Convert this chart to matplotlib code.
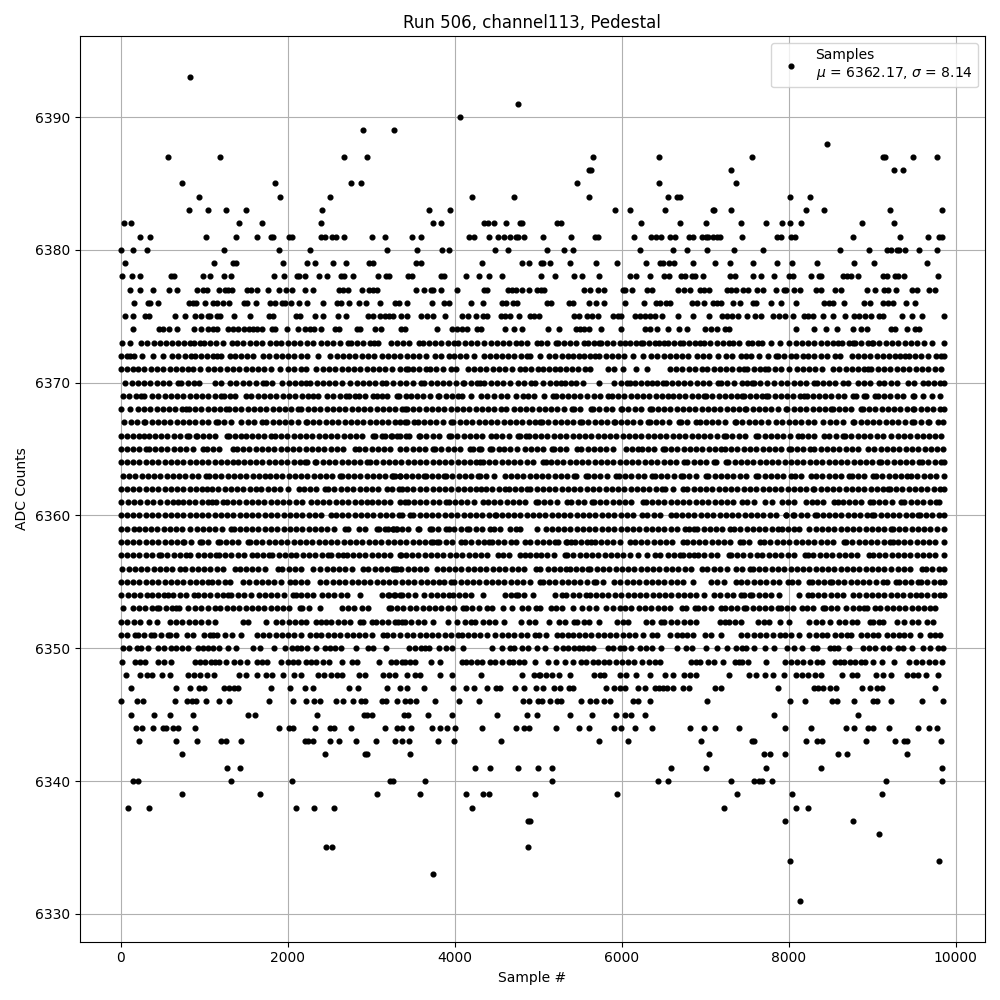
#!/usr/bin/env python3

"""Plot pedestal ADC samples for one channel."""

import matplotlib

matplotlib.use("Agg")
import matplotlib.pyplot as plt

# sample numbers, one list per ADC count
s6393 = [828]
s6391 = [4752]
s6390 = [4068]
s6389 = [2904, 3276]
s6388 = [8460]
s6387 = [564, 1188, 2676, 2952, 5652, 6444, 7560, 9132, 9148, 9492, 9780]
s6386 = [5612, 5632, 7308, 9264, 9372]
s6385 = [732, 1848, 2760, 2880, 5460, 6444, 7368]
s6384 = [936, 1908, 2508, 4212, 4704, 5604, 6552, 6660, 6700, 8016, 8256]
s6383 = [816, 1044, 1260, 1500, 2412, 3696, 3944, 5916, 6096, 6516, 7092, 7108, 7308, 8208, 8424, 9216, 9828]
s6382 = [36, 120, 1416, 1692, 2400, 3744, 3840, 4352, 4400, 4464, 4608, 4776, 4808, 5220, 5268, 6228, 6696,
         7008, 7428, 7728, 7920, 8016, 8148, 8880, 9264]
s6381 = [228, 348, 1020, 1380, 1632, 1800, 1824, 2016, 2056, 2400, 2448, 2532, 2584, 2676, 3012, 3168, 3492,
         3600, 4172, 4232, 4404, 4512, 4584, 4656, 4728, 4752, 4824, 5052, 5388, 5676, 5716, 6144, 6348, 6412,
         6468, 6576, 6636, 6804, 6852, 6960, 7008, 7032, 7092, 7140, 7176, 7440, 7860, 7908, 8028, 8076, 8772,
         9336, 9672, 9804, 9828]
s6380 = [0, 144, 312, 1236, 1896, 2268, 3192, 3552, 3852, 3936, 4476, 4632, 5100, 5304, 5412, 6216, 6612, 6780,
         7020, 7344, 7692, 8616, 8964, 9180, 9228, 9300, 9324, 9396, 9564, 9780]
s6379 = [48, 1116, 1344, 1376, 1944, 2232, 2328, 2544, 2700, 2976, 3024, 3540, 3600, 4332, 4800, 4884, 5032,
         5052, 5136, 5376, 5688, 5940, 6288, 6456, 6492, 6564, 6624, 6852, 7116, 7296, 7572, 7860, 8040, 8340,
         8784, 9024, 9660]
s6378 = [12, 132, 228, 600, 640, 984, 1068, 1236, 1320, 1836, 1956, 2112, 2136, 2208, 2376, 2472, 2640, 2676,
         2784, 3084, 3180, 3216, 3440, 3492, 3840, 3872, 4140, 4296, 4404, 4560, 5032, 5196, 5424, 5520, 5724,
         6096, 6168, 6336, 6504, 6564, 6708, 6756, 6840, 6876, 6972, 7296, 7356, 7572, 7668, 7824, 8004, 8052,
         8268, 8364, 8388, 8652, 8700, 8748, 8832, 9132, 9180, 9276, 9312, 9384, 9792]
s6377 = [108, 232, 392, 576, 672, 912, 984, 1032, 1176, 1248, 1290, 1332, 1512, 1560, 1632, 1764, 1896, 1980,
         2052, 2208, 2304, 2616, 2664, 2724, 2892, 2976, 3024, 3072, 3540, 3636, 3720, 3744, 3840, 4032, 4356,
         4384, 4632, 4680, 4728, 4804, 4884, 4984, 5032, 5072, 5544, 5616, 5716, 5784, 6012, 6036, 6124, 6300,
         6360, 6672, 6744, 6816, 6936, 6984, 7044, 7260, 7308, 7372, 7452, 7512, 7620, 7692, 7848, 7944, 7968,
         8060, 8132, 8328, 8388, 8556, 8628, 8940, 9036, 9144, 9192, 9288, 9480, 9540, 9684, 9756]
s6376 = [156, 324, 352, 444, 816, 864, 896, 1008, 1104, 1152, 1224, 1296, 1476, 1512, 1620, 1788, 1848, 1932,
         1968, 2040, 2136, 2232, 2424, 2592, 2640, 2736, 2856, 2940, 3108, 3288, 3336, 3432, 3732, 3876, 3936,
         4192, 4344, 4560, 4608, 4692, 4744, 5100, 5156, 5364, 5412, 5604, 5688, 5784, 6036, 6264, 6408, 6456,
         6528, 6576, 6840, 6900, 6984, 7092, 7140, 7188, 7332, 7416, 7572, 7608, 7788, 7908, 8088, 8424, 8484,
         8532, 8664, 8904, 8976, 9132, 9192, 9252, 9408, 9516]
s6375 = [48, 144, 288, 336, 648, 768, 884, 960, 1044, 1068, 1152, 1188, 1356, 1548, 1776, 1824, 2100, 2148,
         2328, 2424, 2604, 2700, 2964, 3024, 3108, 3168, 3216, 3264, 3360, 3432, 3600, 3672, 3744, 3888, 4092,
         4164, 4260, 4344, 4392, 4548, 4596, 4656, 4764, 4896, 4944, 5012, 5424, 5484, 5580, 5640, 5712, 5892,
         5952, 5988, 6156, 6216, 6276, 6336, 6396, 6480, 6672, 6852, 7044, 7200, 7260, 7320, 7392, 7496, 7596,
         7668, 7812, 7884, 7956, 8052, 8184, 8232, 8292, 8412, 8532, 8676, 8784, 8844, 8916, 8988, 9084, 9132,
         9360, 9480, 9600, 9852]
s6374 = [144, 464, 512, 576, 672, 876, 960, 1044, 1104, 1152, 1284, 1344, 1404, 1476, 1536, 1584, 1632, 1692,
         1812, 1848, 1992, 2124, 2208, 2268, 2316, 2400, 2568, 2616, 2832, 2868, 3048, 3120, 3360, 3408, 3792,
         3972, 4032, 4092, 4152, 4272, 4320, 4596, 4704, 4800, 5112, 5244, 5448, 5496, 5544, 5604, 5748, 5988,
         6276, 6336, 6420, 6552, 6684, 6780, 6996, 7068, 7140, 7236, 7284, 8088, 8304, 8448, 8580, 8772, 8868,
         8940, 9228, 9276, 9420, 9516, 9564]
s6373 = [16, 112, 244, 320, 395, 470, 545, 620, 684, 760, 832, 876, 944, 996, 1070, 1145, 1220, 1332, 1396, 1470,
         1545, 1620, 1696, 1792, 1864, 1924, 2000, 2075, 2150, 2225, 2300, 2404, 2472, 2545, 2620, 2716, 2752,
         2825, 2900, 2984, 3032, 3084, 3232, 3305, 3380, 3455, 3576, 3616, 3690, 3765, 3840, 3915, 3990, 4044,
         4120, 4195, 4270, 4345, 4432, 4504, 4580, 4655, 4730, 4792, 4864, 4984, 5032, 5105, 5212, 5232, 5305,
         5380, 5455, 5552, 5592, 5665, 5724, 5752, 5825, 5900, 5975, 6044, 6100, 6170, 6232, 6252, 6325, 6400,
         6444, 6504, 6552, 6625, 6692, 6732, 6805, 6880, 6940, 6984, 7060, 7135, 7210, 7284, 7332, 7405, 7512,
         7560, 7630, 7684, 7788, 7900, 8004, 8080, 8155, 8230, 8305, 8380, 8455, 8530, 8592, 8640, 8715, 8772,
         8796, 8870, 8945, 8992, 9012, 9085, 9160, 9235, 9310, 9385, 9460, 9540, 9624, 9720, 9852]
s6372 = [0, 70, 112, 164, 256, 392, 504, 616, 690, 765, 844, 884, 960, 1035, 1110, 1152, 1204, 1312, 1364, 1440,
         1515, 1590, 1704, 1776, 1856, 1936, 2004, 2080, 2155, 2230, 2364, 2512, 2585, 2660, 2735, 2810, 2885,
         2964, 3032, 3124, 3200, 3275, 3350, 3425, 3500, 3575, 3656, 3764, 3840, 3936, 3992, 4065, 4136, 4232,
         4352, 4416, 4490, 4565, 4640, 4715, 4790, 4864, 4904, 5024, 5132, 5205, 5280, 5355, 5412, 5484, 5552,
         5625, 5684, 5732, 5805, 5880, 5955, 6030, 6132, 6252, 6352, 6425, 6500, 6575, 6650, 6724, 6792, 6900,
         6972, 7045, 7152, 7244, 7320, 7432, 7492, 7552, 7644, 7752, 7844, 7872, 7945, 8020, 8084, 8172, 8232,
         8305, 8380, 8455, 8552, 8612, 8752, 8825, 8900, 8975, 9050, 9125, 9200, 9275, 9332, 9392, 9444, 9512,
         9585, 9672, 9760, 9825, 9856]
s6371 = [0, 70, 145, 204, 284, 360, 435, 510, 585, 660, 735, 810, 864, 952, 1044, 1120, 1195, 1270, 1345, 1420,
         1495, 1570, 1645, 1720, 1795, 1904, 2004, 2080, 2155, 2224, 2344, 2420, 2495, 2570, 2645, 2720, 2795,
         2870, 2945, 3020, 3095, 3170, 3245, 3344, 3420, 3444, 3496, 3570, 3656, 3704, 3780, 3855, 3956, 4016,
         4156, 4230, 4305, 4380, 4455, 4530, 4605, 4680, 4776, 4836, 4910, 4996, 5056, 5130, 5196, 5256, 5330,
         5405, 5480, 5555, 5616, 5836, 5910, 6016, 6176, 6296, 6576, 6650, 6725, 6800, 6880, 6956, 7024, 7100,
         7175, 7250, 7325, 7400, 7464, 7504, 7580, 7655, 7716, 7756, 7830, 7905, 8004, 8092, 8165, 8240, 8315,
         8396, 8532, 8605, 8680, 8755, 8830, 8904, 8944, 8984, 9064, 9140, 9215, 9290, 9364, 9444, 9520, 9595,
         9670, 9745, 9824]
s6370 = [56, 130, 205, 280, 355, 430, 505, 580, 688, 724, 800, 875, 936, 1124, 1200, 1304, 1384, 1464, 1540, 1615,
         1704, 1744, 1816, 1936, 2010, 2085, 2160, 2216, 2272, 2345, 2420, 2495, 2570, 2645, 2744, 2824, 2900,
         2975, 3050, 3125, 3176, 3264, 3344, 3420, 3496, 3596, 3636, 3710, 3785, 3860, 3935, 4010, 4096, 4116,
         4190, 4265, 4304, 4356, 4436, 4504, 4580, 4664, 4756, 4830, 4916, 4960, 5056, 5136, 5210, 5276, 5316,
         5390, 5448, 5536, 5724, 5904, 5996, 6060, 6104, 6156, 6230, 6300, 6356, 6416, 6490, 6528, 6596, 6670,
         6745, 6820, 6895, 6970, 7045, 7156, 7184, 7260, 7344, 7436, 7500, 7556, 7588, 7660, 7735, 7824, 7912,
         7984, 8060, 8135, 8210, 8304, 8332, 8405, 8480, 8555, 8644, 8712, 8824, 8900, 8975, 9084, 9144, 9220,
         9295, 9424, 9504, 9604, 9664, 9740, 9815, 9856]
s6369 = [32, 105, 180, 244, 284, 376, 450, 525, 600, 675, 750, 825, 900, 975, 1050, 1125, 1204, 1232, 1305, 1364,
         1496, 1564, 1640, 1715, 1790, 1865, 1940, 2015, 2090, 2165, 2240, 2304, 2364, 2472, 2544, 2620, 2696,
         2736, 2800, 2856, 2924, 3016, 3064, 3125, 3184, 3304, 3328, 3416, 3476, 3550, 3625, 3700, 3796, 3816,
         3890, 3965, 4036, 4088, 4196, 4316, 4390, 4465, 4556, 4624, 4736, 4816, 4880, 4944, 5064, 5176, 5208,
         5280, 5355, 5430, 5505, 5580, 5664, 5736, 5836, 5888, 5956, 6030, 6105, 6180, 6255, 6330, 6405, 6480,
         6555, 6608, 6684, 6760, 6835, 6910, 6984, 7012, 7085, 7160, 7235, 7310, 7385, 7444, 7464, 7532, 7612,
         7680, 7732, 7756, 7830, 7905, 7980, 8055, 8130, 8184, 8212, 8285, 8360, 8435, 8510, 8585, 8660, 8764,
         8804, 8904, 8924, 9036, 9064, 9140, 9215, 9290, 9365, 9484, 9504, 9612, 9716, 9812]
s6368 = [0, 112, 204, 280, 355, 430, 505, 580, 655, 730, 784, 816, 890, 965, 1040, 1115, 1190, 1264, 1296, 1370,
         1445, 1520, 1595, 1670, 1745, 1820, 1895, 1970, 2045, 2124, 2164, 2240, 2315, 2390, 2465, 2540, 2615,
         2690, 2765, 2840, 2915, 2990, 3065, 3140, 3215, 3290, 3365, 3408, 3424, 3500, 3575, 3650, 3725, 3800,
         3875, 3950, 4025, 4100, 4175, 4250, 4325, 4400, 4475, 4550, 4616, 4704, 4780, 4855, 4930, 5005, 5080,
         5155, 5230, 5305, 5408, 5424, 5500, 5636, 5656, 5730, 5805, 5880, 5996, 6008, 6080, 6155, 6230, 6336,
         6356, 6430, 6505, 6580, 6655, 6730, 6805, 6880, 6955, 7030, 7105, 7180, 7255, 7330, 7405, 7476, 7492,
         7565, 7640, 7715, 7790, 7865, 7972, 7984, 8060, 8135, 8210, 8285, 8360, 8435, 8504, 8524, 8600, 8675,
         8750, 8864, 8884, 8960, 9035, 9110, 9185, 9260, 9335, 9410, 9492, 9504, 9580, 9655, 9730, 9805, 9852]
s6367 = [44, 120, 195, 284, 296, 370, 445, 520, 595, 670, 745, 820, 895, 970, 1045, 1144, 1164, 1240, 1315, 1444,
         1524, 1600, 1696, 1744, 1820, 1895, 1970, 2045, 2120, 2224, 2232, 2305, 2380, 2455, 2530, 2605, 2680,
         2755, 2830, 2905, 2980, 3055, 3130, 3205, 3280, 3344, 3408, 3424, 3516, 3556, 3630, 3705, 3780, 3855,
         3956, 3984, 4060, 4135, 4210, 4285, 4360, 4435, 4510, 4585, 4660, 4735, 4810, 4885, 4960, 5016, 5048,
         5120, 5195, 5270, 5345, 5420, 5504, 5528, 5600, 5675, 5750, 5825, 5904, 5916, 5990, 6065, 6140, 6215,
         6316, 6336, 6410, 6485, 6560, 6688, 6704, 6780, 6892, 6932, 7005, 7080, 7155, 7230, 7356, 7372, 7445,
         7520, 7595, 7670, 7745, 7844, 7924, 8000, 8075, 8150, 8225, 8300, 8412, 8492, 8570, 8645, 8772, 8784,
         8860, 8935, 9010, 9085, 9160, 9235, 9310, 9385, 9476, 9504, 9580, 9664, 9676, 9784, 9844]
s6366 = [0, 75, 150, 225, 284, 336, 410, 485, 560, 635, 710, 792, 816, 896, 912, 985, 1060, 1135, 1272, 1296, 1370,
         1444, 1496, 1570, 1645, 1720, 1804, 1844, 1920, 1995, 2070, 2145, 2220, 2295, 2370, 2445, 2520, 2595,
         2670, 2745, 2820, 2895, 3024, 3044, 3124, 3164, 3244, 3344, 3236, 3310, 3416, 3448, 3568, 3584, 3660,
         3735, 3810, 3928, 3956, 4030, 4105, 4180, 4255, 4328, 4436, 4496, 4570, 4645, 4756, 4784, 4856, 4888,
         4960, 5035, 5110, 5185, 5260, 5335, 5410, 5485, 5560, 5635, 5710, 5785, 5860, 5935, 6010, 6085, 6160,
         6235, 6310, 6385, 6460, 6535, 6610, 6684, 6760, 6835, 6910, 6985, 7060, 7135, 7224, 7252, 7325, 7400,
         7475, 7604, 7636, 7710, 7785, 7860, 7935, 8010, 8104, 8156, 8230, 8305, 8424, 8484, 8560, 8644, 8676,
         8750, 8825, 8900, 8975, 9050, 9125, 9224, 9304, 9380, 9455, 9530, 9605, 9680, 9755, 9824]
s6365 = [0, 75, 150, 225, 304, 336, 410, 485, 560, 635, 710, 785, 860, 984, 1032, 1105, 1180, 1344, 1392, 1465,
         1540, 1615, 1690, 1765, 1840, 1915, 1990, 2065, 2140, 2215, 2290, 2365, 2440, 2524, 2592, 2665, 2804,
         2856, 2930, 3005, 3080, 3155, 3230, 3344, 3420, 3495, 3570, 3645, 3744, 3768, 3840, 3915, 3990, 4065,
         4184, 4216, 4288, 4316, 4416, 4448, 4528, 4584, 4660, 4744, 4836, 4910, 4985, 5060, 5168, 5184, 5260,
         5335, 5464, 5516, 5590, 5665, 5740, 5815, 5896, 6048, 6120, 6196, 6236, 6310, 6385, 6496, 6516, 6590,
         6665, 6740, 6815, 6890, 6965, 7040, 7115, 7184, 7236, 7310, 7385, 7460, 7535, 7610, 7685, 7760, 7835,
         7910, 8004, 8024, 8100, 8175, 8252, 8304, 8380, 8455, 8530, 8605, 8680, 8755, 8830, 8944, 9024, 9100,
         9175, 9250, 9325, 9400, 9475, 9550, 9625, 9700, 9775, 9850]
s6364 = [0, 75, 150, 225, 300, 375, 450, 525, 600, 675, 750, 825, 900, 975, 1050, 1125, 1200, 1275, 1350, 1404,
         1472, 1545, 1620, 1695, 1770, 1845, 1920, 1995, 2070, 2145, 2204, 2232, 2324, 2344, 2420, 2495, 2570,
         2645, 2720, 2795, 2870, 2944, 2984, 3060, 3135, 3210, 3285, 3360, 3435, 3510, 3585, 3660, 3735, 3810,
         3885, 3960, 4035, 4110, 4185, 4260, 4304, 4336, 4410, 4485, 4560, 4635, 4710, 4785, 4860, 4935, 5056,
         5096, 5156, 5224, 5300, 5375, 5450, 5525, 5600, 5675, 5750, 5825, 5900, 5975, 6050, 6125, 6200, 6275,
         6350, 6425, 6500, 6575, 6650, 6744, 6784, 6860, 6935, 7010, 7104, 7124, 7244, 7276, 7350, 7425, 7500,
         7575, 7650, 7725, 7800, 7875, 7950, 8025, 8100, 8175, 8250, 8325, 8400, 8475, 8550, 8625, 8700, 8775,
         8850, 8925, 9000, 9084, 9104, 9180, 9255, 9330, 9405, 9480, 9564, 9596, 9670, 9745, 9820, 9856]
s6363 = [24, 100, 175, 250, 325, 400, 475, 550, 625, 700, 775, 850, 925, 1024, 1056, 1130, 1205, 1280, 1355, 1430,
         1505, 1580, 1655, 1724, 1784, 1860, 1935, 2010, 2085, 2160, 2235, 2310, 2385, 2460, 2535, 2624, 2644,
         2720, 2795, 2870, 2945, 3020, 3095, 3170, 3244, 3284, 3344, 3264, 3340, 3415, 3490, 3565, 3636, 3656,
         3730, 3805, 3876, 3896, 3970, 4045, 4120, 4195, 4276, 4304, 4380, 4464, 4596, 4670, 4745, 4820, 4895,
         4970, 5045, 5120, 5195, 5270, 5345, 5424, 5456, 5576, 5596, 5670, 5745, 5820, 5936, 5968, 6040, 6115,
         6190, 6265, 6356, 6396, 6470, 6545, 6620, 6704, 6736, 6810, 6885, 7004, 7036, 7110, 7185, 7260, 7335,
         7410, 7485, 7604, 7636, 7710, 7785, 7860, 7935, 8024, 8076, 8150, 8264, 8324, 8400, 8475, 8550, 8625,
         8724, 8756, 8830, 8905, 9012, 9044, 9120, 9195, 9270, 9345, 9412, 9464, 9540, 9615, 9690, 9765, 9852]
s6362 = [0, 75, 150, 225, 300, 375, 450, 525, 600, 675, 750, 825, 900, 975, 1032, 1096, 1170, 1245, 1320, 1395,
         1470, 1545, 1624, 1684, 1760, 1835, 1910, 2004, 2136, 2192, 2265, 2340, 2444, 2484, 2560, 2635, 2710,
         2785, 2860, 2935, 3010, 3085, 3184, 3244, 3336, 3368, 3430, 3496, 3584, 3660, 3735, 3810, 3885, 3960,
         4035, 4110, 4185, 4260, 4316, 4376, 4450, 4525, 4596, 4648, 4720, 4795, 4864, 4904, 4980, 5055, 5130,
         5205, 5280, 5355, 5430, 5505, 5580, 5655, 5730, 5805, 5880, 5955, 6030, 6105, 6180, 6255, 6330, 6405,
         6476, 6516, 6616, 6736, 6784, 6860, 6935, 7010, 7085, 7160, 7235, 7310, 7385, 7460, 7535, 7610, 7685,
         7760, 7835, 7910, 7985, 8060, 8135, 8210, 8284, 8304, 8380, 8455, 8530, 8605, 8680, 8755, 8830, 8905,
         8980, 9055, 9130, 9184, 9212, 9280, 9356, 9436, 9510, 9585, 9660, 9735, 9810, 9856]
s6361 = [8, 85, 160, 235, 310, 385, 472, 552, 625, 684, 744, 820, 895, 970, 1045, 1096, 1136, 1224, 1272, 1345,
         1420, 1495, 1570, 1645, 1720, 1795, 1870, 1945, 2020, 2095, 2170, 2284, 2352, 2425, 2500, 2575, 2650,
         2725, 2800, 2875, 2944, 3004, 3080, 3155, 3230, 3344, 3408, 3436, 3510, 3585, 3660, 3735, 3810, 3896,
         3928, 4000, 4075, 4150, 4225, 4344, 4396, 4470, 4545, 4620, 4695, 4770, 4845, 4976, 4996, 5070, 5145,
         5220, 5348, 5396, 5470, 5545, 5648, 5664, 5740, 5815, 5890, 5965, 6040, 6115, 6256, 6288, 6360, 6435,
         6510, 6585, 6660, 6735, 6810, 6885, 6960, 7035, 7110, 7185, 7260, 7335, 7444, 7504, 7580, 7716, 7796,
         7916, 7990, 8065, 8204, 8276, 8332, 8405, 8544, 8584, 8644, 8720, 8795, 8870, 8972, 9004, 9080, 9155,
         9230, 9344, 9384, 9460, 9535, 9610, 9685, 9764, 9804]
s6360 = [0, 75, 150, 225, 300, 375, 450, 525, 600, 675, 750, 825, 900, 975, 1050, 1125, 1200, 1275, 1350, 1425,
         1500, 1575, 1650, 1725, 1800, 1875, 1950, 2025, 2100, 2175, 2250, 2325, 2400, 2524, 2576, 2650, 2725,
         2800, 2875, 2950, 3025, 3100, 3175, 3250, 3336, 3368, 3464, 3504, 3580, 3655, 3730, 3805, 3880, 3955,
         4030, 4105, 4180, 4255, 4330, 4405, 4476, 4488, 4560, 4635, 4710, 4785, 4860, 4935, 5010, 5085, 5160,
         5235, 5310, 5385, 5460, 5535, 5610, 5685, 5760, 5835, 5910, 5985, 6060, 6135, 6236, 6304, 6380, 6455,
         6584, 6648, 6720, 6795, 6870, 6945, 7020, 7095, 7170, 7245, 7320, 7395, 7470, 7545, 7620, 7695, 7770,
         7845, 7964, 7972, 8044, 8064, 8140, 8215, 8316, 8332, 8405, 8480, 8555, 8630, 8705, 8780, 8855, 8930,
         8996, 9024, 9100, 9175, 9250, 9325, 9400, 9475, 9544, 9572, 9645, 9720, 9795, 9856]
s6359 = [0, 75, 164, 216, 290, 365, 440, 515, 590, 665, 740, 832, 912, 985, 1060, 1135, 1210, 1324, 1352, 1425,
         1500, 1575, 1650, 1725, 1800, 1875, 1950, 2025, 2100, 2175, 2250, 2325, 2400, 2475, 2550, 2684, 2724,
         2856, 2930, 3064, 3096, 3164, 3204, 3264, 3312, 3256, 3296, 3370, 3445, 3556, 3576, 3704, 3728, 3800,
         3896, 3936, 3996, 4076, 4144, 4176, 4250, 4325, 4416, 4464, 4540, 4664, 4728, 4776, 4984, 5088, 5160,
         5235, 5310, 5385, 5460, 5535, 5610, 5685, 5760, 5835, 5910, 5985, 6060, 6135, 6210, 6285, 6360, 6435,
         6510, 6585, 6660, 6756, 6804, 6864, 6904, 6980, 7055, 7132, 7204, 7292, 7344, 7420, 7495, 7570, 7645,
         7720, 7795, 7876, 7916, 7990, 8065, 8116, 8244, 8320, 8395, 8470, 8545, 8620, 8695, 8770, 8845, 8920,
         8995, 9070, 9145, 9224, 9244, 9320, 9395, 9470, 9545, 9620, 9695, 9770, 9856]
s6358 = [0, 75, 150, 225, 300, 375, 450, 525, 600, 675, 752, 764, 840, 944, 976, 1050, 1164, 1184, 1260, 1335,
         1410, 1524, 1544, 1620, 1695, 1770, 1845, 1920, 1995, 2070, 2145, 2220, 2295, 2370, 2445, 2520, 2595,
         2670, 2745, 2820, 2895, 2970, 3045, 3120, 3195, 3270, 3344, 3420, 3495, 3570, 3645, 3716, 3736, 3784,
         3816, 3890, 3965, 4076, 4128, 4200, 4275, 4350, 4408, 4448, 4520, 4595, 4676, 4736, 4836, 4904, 4980,
         5055, 5130, 5204, 5236, 5328, 5344, 5396, 5436, 5510, 5585, 5636, 5676, 5750, 5825, 5900, 5975, 6096,
         6156, 6230, 6305, 6380, 6455, 6530, 6605, 6736, 6776, 6850, 6925, 7000, 7075, 7150, 7225, 7300, 7412,
         7452, 7525, 7652, 7704, 7780, 7855, 7930, 8005, 8080, 8155, 8230, 8305, 8380, 8455, 8530, 8664, 8684,
         8760, 8835, 8910, 8985, 9060, 9135, 9212, 9244, 9304, 9380, 9455, 9530, 9605, 9680, 9755, 9856]
s6357 = [0, 75, 150, 225, 300, 375, 456, 484, 560, 635, 710, 785, 832, 924, 992, 1065, 1136, 1176, 1250, 1325,
         1400, 1475, 1576, 1632, 1705, 1776, 1816, 1890, 1965, 2040, 2104, 2180, 2255, 2330, 2405, 2484, 2524,
         2600, 2664, 2704, 2780, 2855, 2930, 3005, 3080, 3155, 3230, 3344, 3356, 3416, 3490, 3565, 3640, 3715,
         3790, 3865, 3940, 4015, 4090, 4165, 4240, 4315, 4390, 4516, 4576, 4650, 4776, 4836, 4905, 4976, 5036,
         5110, 5185, 5316, 5344, 5420, 5495, 5570, 5645, 5720, 5795, 5870, 5945, 6020, 6095, 6196, 6296, 6396,
         6456, 6556, 6630, 6696, 6736, 6810, 6864, 6916, 6990, 7065, 7140, 7284, 7308, 7380, 7455, 7530, 7624,
         7684, 7760, 7835, 7910, 7985, 8060, 8196, 8224, 8292, 8372, 8445, 8520, 8595, 8670, 8745, 8820, 8956,
         9004, 9080, 9155, 9230, 9305, 9380, 9455, 9530, 9605, 9680, 9755, 9856]
s6356 = [12, 96, 170, 245, 320, 395, 470, 545, 620, 712, 776, 850, 925, 1000, 1075, 1150, 1225, 1364, 1424, 1500,
         1575, 1650, 1725, 1884, 1936, 2010, 2085, 2160, 2304, 2392, 2465, 2540, 2615, 2690, 2765, 2904, 2964,
         3040, 3115, 3190, 3304, 3256, 3288, 3360, 3435, 3510, 3585, 3660, 3784, 3856, 3930, 4005, 4080, 4155,
         4230, 4305, 4380, 4455, 4530, 4605, 4680, 4755, 4830, 4968, 5016, 5116, 5190, 5265, 5336, 5376, 5450,
         5525, 5596, 5624, 5700, 5775, 5850, 5925, 6000, 6075, 6150, 6225, 6300, 6375, 6450, 6525, 6600, 6675,
         6756, 6830, 6964, 7024, 7100, 7175, 7264, 7372, 7445, 7532, 7572, 7645, 7720, 7795, 7870, 7945, 8020,
         8095, 8170, 8245, 8320, 8395, 8470, 8545, 8620, 8695, 8770, 8845, 8920, 8995, 9070, 9145, 9224, 9304,
         9380, 9455, 9596, 9644, 9720, 9795, 9856]
s6355 = [0, 75, 150, 225, 300, 375, 450, 525, 600, 675, 750, 825, 900, 975, 1050, 1096, 1170, 1245, 1312, 1464,
         1540, 1615, 1690, 1765, 1840, 1915, 2032, 2084, 2160, 2235, 2384, 2464, 2540, 2615, 2690, 2765, 2840,
         2915, 2990, 3065, 3140, 3215, 3290, 3365, 3440, 3515, 3590, 3665, 3740, 3808, 3876, 3956, 3996, 4070,
         4145, 4220, 4295, 4370, 4445, 4520, 4595, 4670, 4745, 4820, 4895, 5024, 5056, 5130, 5205, 5280, 5355,
         5430, 5505, 5580, 5664, 5696, 5770, 5904, 5984, 6060, 6135, 6210, 6285, 6360, 6435, 6510, 6585, 6660,
         6735, 6852, 7072, 7145, 7220, 7364, 7432, 7505, 7580, 7655, 7730, 7805, 7880, 7996, 8032, 8105, 8244,
         8272, 8345, 8420, 8492, 8516, 8590, 8665, 8740, 8815, 8890, 8965, 9040, 9132, 9172, 9284, 9316, 9390,
         9465, 9544, 9584, 9660, 9735, 9810, 9856]
s6354 = [8, 85, 160, 235, 310, 376, 444, 520, 564, 632, 705, 780, 872, 924, 1000, 1075, 1150, 1224, 1284, 1324,
         1404, 1480, 1555, 1656, 1724, 1800, 1875, 1950, 2064, 2104, 2156, 2230, 2305, 2416, 2484, 2560, 2635,
         2710, 2864, 3124, 3200, 3275, 3344, 3216, 3290, 3365, 3440, 3528, 3636, 3710, 3785, 3860, 3936, 3976,
         4050, 4125, 4200, 4336, 4596, 4670, 4728, 4756, 4830, 4936, 5196, 5288, 5336, 5416, 5490, 5568, 5616,
         5690, 5765, 5840, 5916, 5996, 6070, 6145, 6220, 6295, 6370, 6445, 6520, 6595, 6670, 6745, 6820, 6884,
         6988, 7104, 7180, 7255, 7330, 7424, 7464, 7532, 7564, 7640, 7715, 7790, 7884, 8124, 8224, 8276, 8350,
         8425, 8500, 8575, 8650, 8764, 8844, 8920, 8995, 9070, 9145, 9220, 9295, 9370, 9445, 9524, 9584, 9660,
         9735, 9810, 9856]
s6353 = [24, 144, 220, 295, 370, 432, 464, 540, 615, 664, 696, 804, 884, 960, 1044, 1124, 1192, 1272, 1345, 1420,
         1495, 1570, 1645, 1720, 1795, 1870, 1945, 2020, 2144, 2176, 2250, 2384, 2644, 2720, 2795, 2884, 2964,
         3216, 3304, 3236, 3384, 3464, 3540, 3615, 3690, 3765, 3840, 3915, 3990, 4096, 4136, 4210, 4285, 4384,
         4448, 4576, 4688, 4808, 4880, 4976, 5024, 5156, 5216, 5290, 5416, 5528, 5608, 5696, 5816, 5890, 5976,
         6036, 6116, 6208, 6280, 6355, 6430, 6505, 6580, 6716, 6768, 6876, 6916, 6990, 7065, 7184, 7236, 7310,
         7385, 7464, 7492, 7565, 7640, 7715, 7790, 7876, 7904, 7980, 8055, 8156, 8212, 8285, 8404, 8432, 8505,
         8580, 8684, 8764, 8840, 8904, 8932, 9032, 9096, 9170, 9245, 9320, 9395, 9470, 9545, 9620, 9695, 9756]
s6352 = [4, 80, 160, 232, 344, 432, 592, 665, 740, 815, 890, 965, 1040, 1124, 1464, 1524, 1736, 1864, 1936, 2010,
         2085, 2164, 2224, 2344, 2400, 2464, 2524, 2600, 2675, 2750, 2864, 2904, 3004, 3056, 3130, 3205, 3284,
         3324, 3364, 3404, 3480, 3555, 3630, 3744, 3924, 4032, 4124, 4190, 4244, 4336, 4404, 4480, 4584, 4792,
         4884, 4964, 5124, 5244, 5320, 5432, 5460, 5552, 5612, 5724, 5940, 6010, 6072, 6292, 6365, 6472, 6504,
         6592, 6665, 6740, 6815, 6892, 7172, 7240, 7284, 7352, 7432, 7632, 7700, 7764, 7892, 8004, 8244, 8320,
         8395, 8492, 8604, 8672, 8752, 8820, 8972, 9012, 9084, 9132, 9300, 9375, 9472, 9552, 9652, 9732]
s6351 = [4, 80, 176, 204, 280, 364, 404, 480, 564, 592, 665, 792, 864, 992, 1064, 1104, 1152, 1248, 1336, 1444,
         1632, 1705, 1780, 1855, 1930, 2005, 2080, 2164, 2272, 2344, 2404, 2480, 2555, 2630, 2705, 2780, 2855,
         2930, 3005, 3136, 3192, 3265, 3340, 3432, 3504, 3580, 3655, 3730, 3805, 3880, 3955, 4044, 4084, 4160,
         4232, 4304, 4384, 4480, 4564, 4640, 4715, 4790, 4865, 4964, 5012, 5092, 5220, 5290, 5352, 5412, 5485,
         5560, 5635, 5710, 5785, 5860, 5935, 6010, 6085, 6160, 6252, 6364, 6420, 6572, 6660, 6720, 6780, 6852,
         6992, 7065, 7192, 7432, 7505, 7580, 7652, 7732, 7805, 7900, 7952, 8025, 8124, 8244, 8320, 8395, 8452,
         8552, 8625, 8692, 8748, 8864, 8940, 9012, 9072, 9172, 9245, 9324, 9380, 9455, 9572, 9692, 9755, 9812]
s6350 = [24, 100, 192, 244, 324, 444, 520, 604, 664, 735, 804, 924, 984, 1050, 1104, 1176, 1284, 1376, 1584, 1672,
         1836, 1964, 2056, 2110, 2164, 2232, 2344, 2444, 2504, 2564, 2640, 2820, 2956, 3024, 3180, 3448, 3524,
         3590, 3644, 3696, 3816, 3890, 3964, 4104, 4444, 4568, 4656, 4704, 4804, 4880, 4984, 5084, 5212, 5300,
         5352, 5432, 5492, 5532, 5600, 5652, 5832, 5900, 5975, 6032, 6112, 6212, 6285, 6360, 6472, 6660, 6764,
         6840, 7012, 7140, 7260, 7372, 7440, 7492, 7580, 7716, 7820, 7980, 8064, 8160, 8284, 8340, 8492, 8545,
         8592, 8724, 8884, 8960, 9032, 9132, 9205, 9312, 9372, 9476, 9612, 9685, 9792, 9844]
s6349 = [12, 168, 230, 288, 444, 524, 604, 884, 950, 1004, 1076, 1130, 1176, 1264, 1356, 1430, 1512, 1632, 1690,
         1752, 1924, 2000, 2065, 2124, 2216, 2284, 2344, 2420, 2496, 2652, 2772, 2832, 3096, 3232, 3300, 3364,
         3404, 3465, 3524, 3720, 3824, 4084, 4140, 4192, 4264, 4332, 4424, 4484, 4565, 4644, 4696, 4764, 4832,
         4964, 5116, 5212, 5316, 5412, 5512, 5572, 5652, 5712, 5792, 5852, 5925, 6000, 6072, 6152, 6244, 6320,
         6392, 6460, 6832, 6890, 6940, 7032, 7100, 7212, 7352, 7400, 7444, 7512, 7732, 7952, 8025, 8100, 8175,
         8250, 8332, 8392, 8552, 8610, 8660, 8732, 8792, 8860, 8912, 9012, 9120, 9260, 9444, 9520, 9592, 9684,
         9752, 9832]
s6348 = [64, 232, 312, 376, 492, 588, 804, 880, 955, 1030, 1112, 1416, 1496, 1632, 1736, 1812, 1944, 2072, 2164,
         2364, 2440, 2515, 2590, 2644, 2856, 2928, 3144, 3210, 3284, 3424, 3524, 3584, 3828, 3972, 4320, 4800,
         4944, 5024, 5012, 5090, 5165, 5252, 5376, 5672, 5735, 5792, 5980, 6055, 6172, 6336, 6512, 6612, 6744,
         6820, 6892, 7284, 7524, 7612, 7712, 7812, 7944, 8084, 8160, 8235, 8310, 8380, 8640, 8752, 8820, 9044,
         9132, 9228, 9412, 9490, 9552, 9648, 9792]
s6347 = [120, 660, 828, 936, 992, 1232, 1300, 1360, 1404, 1800, 2028, 2204, 2304, 2736, 2844, 3192, 3344, 3424,
         3636, 3984, 4140, 4236, 4392, 4492, 4544, 4724, 4824, 4976, 5052, 5192, 5260, 5372, 5412, 5808, 5912,
         5980, 6044, 6192, 6272, 6392, 6445, 6492, 6540, 6612, 6732, 6804, 7120, 7192, 7872, 8300, 8352, 8412,
         8490, 8564, 8880, 8972, 9052, 9120, 9756]
s6346 = [0, 192, 264, 648, 792, 850, 896, 1020, 1176, 1296, 1776, 2064, 2216, 2312, 2384, 2580, 2664, 2784, 2872,
         2924, 3124, 3176, 3312, 3404, 3464, 3540, 3768, 4056, 4296, 4816, 4884, 4992, 5044, 5144, 5220, 5268,
         5508, 5616, 5692, 5792, 5856, 6132, 6192, 6336, 7020, 8016, 8192, 8512, 8572, 8784, 9012, 9060, 9228,
         9600, 9840]
s6345 = [120, 396, 588, 864, 1524, 1608, 2352, 2916, 2952, 3012, 3396, 3444, 3684, 3972, 4500, 4860, 4980, 5376,
         5640, 5928, 6036, 6108, 6276, 7824, 8832]
s6344 = [180, 252, 384, 504, 540, 624, 690, 888, 1896, 2016, 2064, 2328, 2512, 2556, 2760, 3168, 3312, 3364, 3480,
         3732, 3828, 3912, 4008, 4332, 4736, 4824, 4884, 5212, 5484, 5604, 5904, 5988, 6156, 6360, 6816, 6984,
         7112, 7404, 7956, 8268, 8688, 8784, 8952, 9012, 9204, 9552, 9684, 9780]
s6343 = [216, 660, 912, 1196, 1264, 1440, 2204, 2244, 2304, 2508, 2616, 2816, 3060, 3288, 3372, 3456, 3804, 3996,
         4548, 5724, 6072, 6948, 7560, 7584, 8208, 8340, 8400, 8928, 9276, 9384, 9420, 9816]
s6342 = [732, 2448, 2924, 2952, 3468, 7044, 7704, 7776, 7956, 8592, 8700, 9420]
s6341 = [1272, 1428, 4248, 4416, 4752, 5000, 5160, 6588, 7008, 7728, 8388, 9828]
s6340 = [144, 204, 1320, 2052, 3224, 3264, 3648, 5160, 6432, 6552, 7308, 7584, 7644, 7680, 7800, 9168, 9828]
s6339 = [732, 1668, 3072, 3588, 4140, 4344, 4404, 4956, 5940, 7380, 8040, 9120]
s6338 = [84, 336, 2100, 2316, 2556, 4212, 7224, 8088, 8232]
s6337 = [4880, 4904, 7956, 8772]
s6336 = [9084]
s6335 = [2460, 2532, 4872]
s6334 = [8016, 9804]
s6333 = [3744]
s6331 = [8136]

adc_levels = [6393, 6391, 6390, 6389, 6388, 6387, 6386, 6385, 6384, 6383, 6382, 6381, 6380, 6379, 6378, 6377, 6376,
              6375, 6374, 6373, 6372, 6371, 6370, 6369, 6368, 6367, 6366, 6365, 6364, 6363, 6362, 6361, 6360, 6359,
              6358, 6357, 6356, 6355, 6354, 6353, 6352, 6351, 6350, 6349, 6348, 6347, 6346, 6345, 6344, 6343, 6342,
              6341, 6340, 6339, 6338, 6337, 6336, 6335, 6334, 6333, 6331]
level_samples = [s6393, s6391, s6390, s6389, s6388, s6387, s6386, s6385, s6384, s6383, s6382, s6381, s6380, s6379,
                 s6378, s6377, s6376, s6375, s6374, s6373, s6372, s6371, s6370, s6369, s6368, s6367, s6366, s6365,
                 s6364, s6363, s6362, s6361, s6360, s6359, s6358, s6357, s6356, s6355, s6354, s6353, s6352, s6351,
                 s6350, s6349, s6348, s6347, s6346, s6345, s6344, s6343, s6342, s6341, s6340, s6339, s6338, s6337,
                 s6336, s6335, s6334, s6333, s6331]

mean_adc = 6362.17
std_adc = 8.14


def main() -> None:
    xs = []
    ys = []
    for level, samples in zip(adc_levels, level_samples):
        xs.extend(samples)
        ys.extend([level] * len(samples))

    plt.figure(figsize=(10, 10))
    plt.plot(xs, ys, ".", color="black", markersize=6.8,
             label=f"Samples\n$\\mu$ = {mean_adc:.2f}, $\\sigma$ = {std_adc:.2f}")
    plt.title("Run 506, channel113, Pedestal")
    plt.xlabel("Sample #")
    plt.ylabel("ADC Counts")
    plt.grid(True)
    plt.legend(loc="upper right")
    plt.tight_layout()
    plt.subplots_adjust(top=0.964)
    plt.savefig("out.png", dpi=100)
    plt.close()


if __name__ == "__main__":
    main()
